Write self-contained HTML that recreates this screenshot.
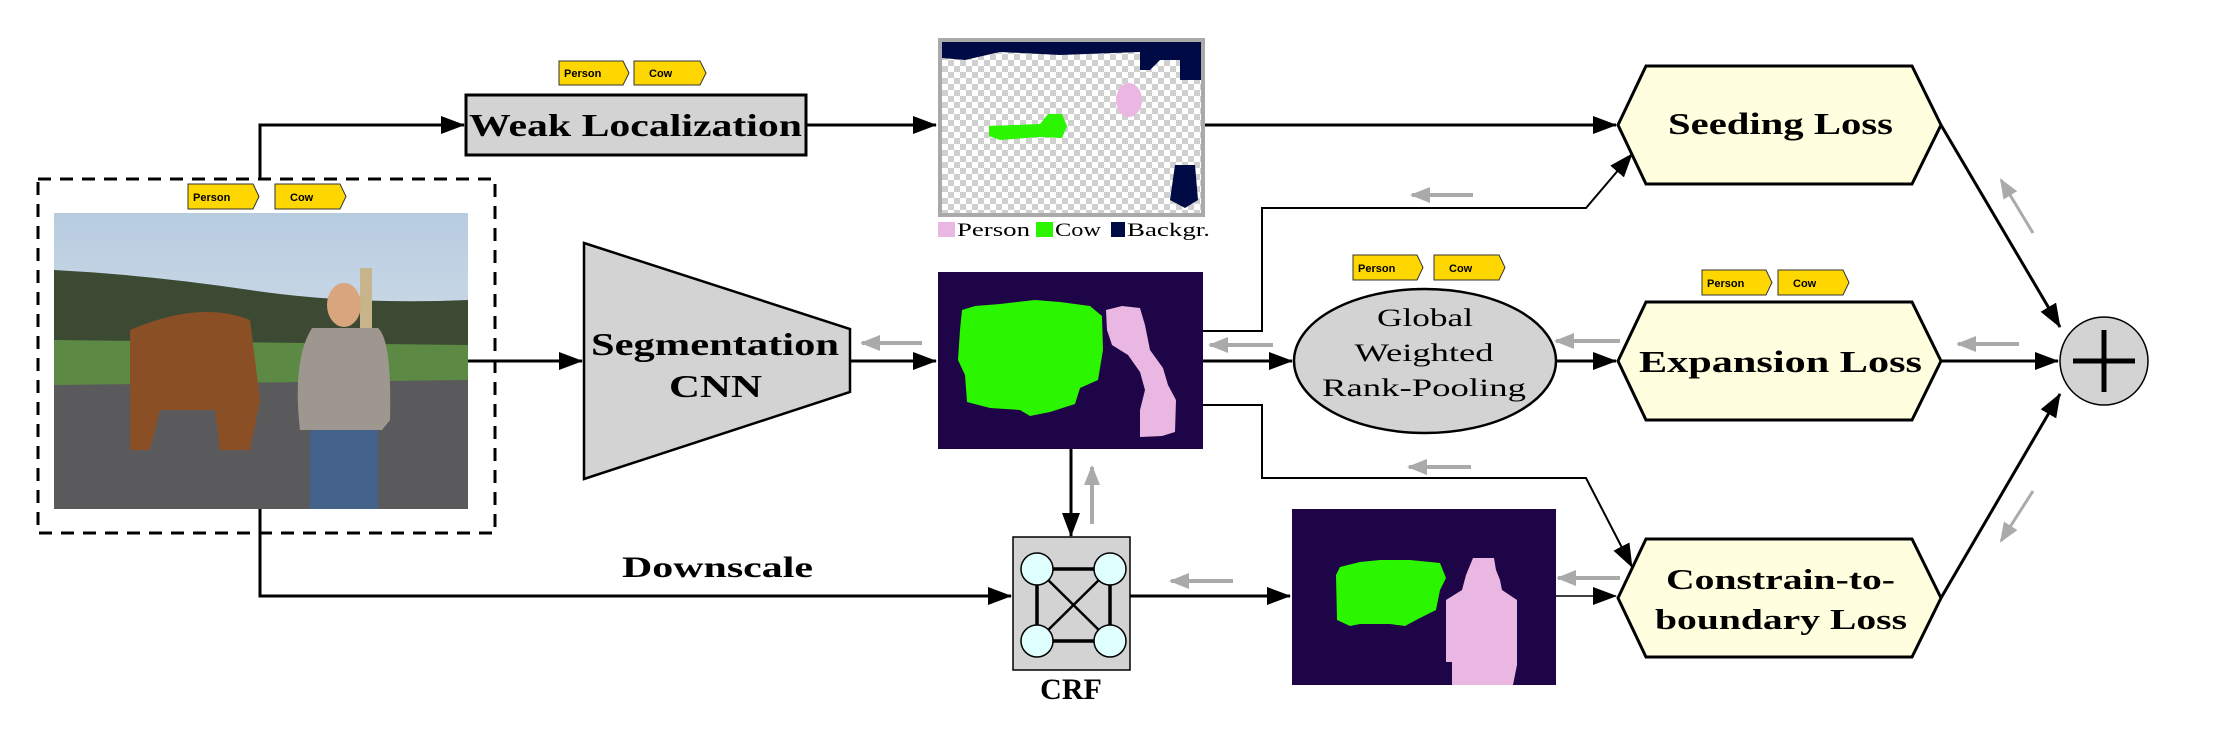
<!DOCTYPE html>
<html><head><meta charset="utf-8"><style>
html,body{margin:0;padding:0;background:#fff;}
svg{display:block;}
text{font-family:"Liberation Serif",serif;fill:#000;}
.b{font-weight:bold;}
.t{font-family:"Liberation Sans",sans-serif;font-size:11px;font-weight:bold;}
</style></head><body>
<svg width="2223" height="744" viewBox="0 0 2223 744" xmlns="http://www.w3.org/2000/svg">
<defs>
<marker id="ah" markerWidth="24" markerHeight="18" refX="23" refY="9" orient="auto" markerUnits="userSpaceOnUse"><path d="M0,0 L24,9 L0,18 Z" fill="#000"/></marker>
<marker id="gh" markerWidth="20" markerHeight="16" refX="18" refY="8" orient="auto" markerUnits="userSpaceOnUse"><path d="M0,0 L20,8 L0,16 Z" fill="#aaa"/></marker>
<pattern id="chk" width="12" height="12" patternUnits="userSpaceOnUse"><rect width="12" height="12" fill="#fff"/><rect width="6" height="6" fill="#d0d0d0"/><rect x="6" y="6" width="6" height="6" fill="#d0d0d0"/></pattern>
<linearGradient id="sky" x1="0" y1="0" x2="0" y2="1"><stop offset="0" stop-color="#b8cce0"/><stop offset="1" stop-color="#e6ecef"/></linearGradient>
</defs>

<!-- Photo -->
<rect x="38" y="179" width="457" height="354" fill="none" stroke="#000" stroke-width="3" stroke-dasharray="13,9"/>
<rect x="54" y="213" width="414" height="296" fill="url(#sky)"/>
<path d="M54,270 Q150,275 250,290 T468,300 L468,360 L54,360 Z" fill="#3d4a33"/>
<path d="M54,340 L468,345 L468,400 L54,400 Z" fill="#5c8a44"/>
<path d="M54,385 L468,380 L468,509 L54,509 Z" fill="#5a5a5c"/>
<path d="M130,330 Q200,300 250,320 L260,400 L250,450 L220,450 L215,410 L160,410 L150,450 L130,450 Z" fill="#8b4f25"/>
<rect x="360" y="268" width="12" height="160" fill="#c8b48a"/>
<ellipse cx="344" cy="305" rx="17" ry="22" fill="#d9a57c"/>
<path d="M312,328 L378,328 Q392,340 390,420 L382,430 L300,430 Q292,360 312,328 Z" fill="#9e978f"/>
<rect x="310" y="430" width="68" height="79" fill="#44628a"/>

<!-- tags -->
<g>
<polygon points="188,184 253,184 259,196.5 253,209 188,209" fill="#ffd700" stroke="#333"/><text class="t" x="193" y="201">Person</text>
<polygon points="275,184 340,184 346,196.5 340,209 275,209" fill="#ffd700" stroke="#333"/><text class="t" x="290" y="201">Cow</text>
<polygon points="559,61 623,61 629,73 623,85 559,85" fill="#ffd700" stroke="#333"/><text class="t" x="564" y="77">Person</text>
<polygon points="634,61 700,61 706,73 700,85 634,85" fill="#ffd700" stroke="#333"/><text class="t" x="649" y="77">Cow</text>
<polygon points="1353,255 1417,255 1423,267.5 1417,280 1353,280" fill="#ffd700" stroke="#333"/><text class="t" x="1358" y="272">Person</text>
<polygon points="1434,255 1499,255 1505,267.5 1499,280 1434,280" fill="#ffd700" stroke="#333"/><text class="t" x="1449" y="272">Cow</text>
<polygon points="1702,270 1766,270 1772,282.5 1766,295 1702,295" fill="#ffd700" stroke="#333"/><text class="t" x="1707" y="287">Person</text>
<polygon points="1778,270 1843,270 1849,282.5 1843,295 1778,295" fill="#ffd700" stroke="#333"/><text class="t" x="1793" y="287">Cow</text>
</g>

<!-- connectors black -->
<g stroke="#000" stroke-width="3" fill="none">
<polyline points="260,179 260,125 464,125" marker-end="url(#ah)"/>
<line x1="806" y1="125" x2="936" y2="125" marker-end="url(#ah)"/>
<line x1="1205" y1="125" x2="1616" y2="125" marker-end="url(#ah)"/>
<line x1="468" y1="361" x2="582" y2="361" marker-end="url(#ah)"/>
<line x1="850" y1="361" x2="936" y2="361" marker-end="url(#ah)"/>
<line x1="1071" y1="449" x2="1071" y2="536" marker-end="url(#ah)"/>
<polyline points="260,509 260,596 1011,596" marker-end="url(#ah)"/>
<line x1="1130" y1="596" x2="1290" y2="596" marker-end="url(#ah)"/>
<line x1="1203" y1="361" x2="1292" y2="361" marker-end="url(#ah)"/>
<line x1="1556" y1="361" x2="1616" y2="361" marker-end="url(#ah)"/>
<line x1="1941" y1="361" x2="2058" y2="361" marker-end="url(#ah)"/>
<polyline points="1941,125 2060,327" marker-end="url(#ah)"/>
<polyline points="1941,598 2060,394" marker-end="url(#ah)"/>
</g>
<g stroke="#000" stroke-width="2" fill="none">
<polyline points="1203,331 1262,331 1262,208 1586,208 1632,154" marker-end="url(#ah)"/>
<polyline points="1203,405 1262,405 1262,478 1586,478 1632,567" marker-end="url(#ah)"/>
<line x1="1556" y1="596" x2="1616" y2="596" stroke-width="1.5" marker-end="url(#ah)"/>
</g>

<!-- gray arrows -->
<g stroke="#aaa" stroke-width="4" fill="none">
<line x1="922" y1="343" x2="862" y2="343" marker-end="url(#gh)"/>
<line x1="1092" y1="524" x2="1092" y2="467" marker-end="url(#gh)"/>
<line x1="1473" y1="195" x2="1412" y2="195" marker-end="url(#gh)"/>
<line x1="1273" y1="345" x2="1210" y2="345" marker-end="url(#gh)"/>
<line x1="1620" y1="341" x2="1556" y2="341" marker-end="url(#gh)"/>
<line x1="2019" y1="344" x2="1958" y2="344" marker-end="url(#gh)"/>
<line x1="1471" y1="467" x2="1409" y2="467" marker-end="url(#gh)"/>
<line x1="1233" y1="581" x2="1171" y2="581" marker-end="url(#gh)"/>
<line x1="1620" y1="578" x2="1558" y2="578" marker-end="url(#gh)"/>
<line x1="2033" y1="233" x2="2001" y2="180" stroke-width="3" marker-end="url(#gh)"/>
<line x1="2033" y1="491" x2="2001" y2="541" stroke-width="3" marker-end="url(#gh)"/>
</g>

<!-- Weak Localization -->
<rect x="466" y="95" width="340" height="60" fill="#d3d3d3" stroke="#000" stroke-width="3"/>
<text class="b" x="469" y="136" font-size="32" textLength="333" lengthAdjust="spacingAndGlyphs">Weak Localization</text>

<!-- Seed map -->
<rect x="940" y="40" width="263" height="175" fill="url(#chk)" stroke="#aaa" stroke-width="4"/>
<path d="M942,42 L1201,42 L1201,80 L1180,80 L1180,60 L1160,60 L1150,70 L1140,70 L1140,52 L1060,55 L1000,52 L965,60 L942,58 Z" fill="#000a44"/>
<path d="M1175,165 L1195,165 L1198,200 L1185,208 L1170,200 Z" fill="#000a44"/>
<ellipse cx="1129" cy="100" rx="13" ry="17" fill="#eab6e2"/>
<path d="M989,126 L1040,124 L1048,114 L1062,114 L1067,126 L1062,138 L1040,137 L1000,140 L989,136 Z" fill="#2cf500"/>
<rect x="938" y="222" width="17" height="15" fill="#eab6e2"/>
<text x="957" y="236" font-size="19" textLength="73" lengthAdjust="spacingAndGlyphs">Person</text>
<rect x="1036" y="222" width="17" height="15" fill="#2cf500"/>
<text x="1055" y="236" font-size="19" textLength="46" lengthAdjust="spacingAndGlyphs">Cow</text>
<rect x="1111" y="222" width="14" height="15" fill="#000a44"/>
<text x="1127" y="236" font-size="19" textLength="83" lengthAdjust="spacingAndGlyphs">Backgr.</text>

<!-- Segmentation CNN -->
<polygon points="584,243 850,329 850,392 584,479" fill="#d3d3d3" stroke="#000" stroke-width="2.5"/>
<text class="b" x="591" y="355" font-size="32" textLength="248" lengthAdjust="spacingAndGlyphs">Segmentation</text>
<text class="b" x="669" y="397" font-size="32" textLength="93" lengthAdjust="spacingAndGlyphs">CNN</text>

<!-- Seg map -->
<rect x="938" y="272" width="265" height="177" fill="#1d0548"/>
<path d="M962,310 L975,306 L1000,304 L1035,300 L1060,302 L1090,306 L1102,316 L1103,350 L1098,380 L1080,388 L1075,404 L1050,412 L1030,416 L1020,410 L990,408 L967,402 L965,375 L958,360 L960,330 Z" fill="#2cf500"/>
<path d="M1106,310 L1122,306 L1140,308 L1145,325 L1150,350 L1163,368 L1168,385 L1176,400 L1175,432 L1162,436 L1140,437 L1140,410 L1145,390 L1140,372 L1128,355 L1112,345 L1107,330 Z" fill="#eab6e2"/>

<!-- CRF -->
<rect x="1013" y="537" width="117" height="133" fill="#d3d3d3" stroke="#000" stroke-width="1.5"/>
<g stroke="#000" stroke-width="3.5" fill="none">
<line x1="1037" y1="569" x2="1110" y2="569"/><line x1="1037" y1="641" x2="1110" y2="641"/>
<line x1="1037" y1="569" x2="1037" y2="641"/><line x1="1110" y1="569" x2="1110" y2="641"/>
<line x1="1037" y1="569" x2="1110" y2="641" stroke-width="2.5"/><line x1="1110" y1="569" x2="1037" y2="641" stroke-width="2.5"/>
</g>
<g fill="#e0ffff" stroke="#000" stroke-width="1.5">
<circle cx="1037" cy="569" r="16"/><circle cx="1110" cy="569" r="16"/><circle cx="1037" cy="641" r="16"/><circle cx="1110" cy="641" r="16"/>
</g>
<text class="b" x="1071" y="699" font-size="30" text-anchor="middle">CRF</text>

<text class="b" x="622" y="577" font-size="30" textLength="191" lengthAdjust="spacingAndGlyphs">Downscale</text>

<!-- bottom map -->
<rect x="1292" y="509" width="264" height="176" fill="#1d0548"/>
<path d="M1340,567 L1360,562 L1380,560 L1410,560 L1440,563 L1446,578 L1440,590 L1436,610 L1420,618 L1405,626 L1390,624 L1360,624 L1350,626 L1337,620 L1336,575 Z" fill="#2cf500"/>
<path d="M1473,558 L1494,558 L1496,570 L1500,580 L1502,590 L1517,600 L1517,665 L1513,685 L1452,685 L1452,662 L1446,662 L1446,600 L1462,590 L1466,575 Z" fill="#eab6e2"/>

<!-- Global ellipse -->
<ellipse cx="1425" cy="361" rx="131" ry="72" fill="#d3d3d3" stroke="#000" stroke-width="2.5"/>
<text x="1425" y="326" font-size="25" text-anchor="middle" textLength="96" lengthAdjust="spacingAndGlyphs">Global</text>
<text x="1424" y="361" font-size="25" text-anchor="middle" textLength="139" lengthAdjust="spacingAndGlyphs">Weighted</text>
<text x="1424" y="396" font-size="25" text-anchor="middle" textLength="204" lengthAdjust="spacingAndGlyphs">Rank-Pooling</text>

<!-- Loss hexagons -->
<g fill="#ffffe0" stroke="#000" stroke-width="3">
<polygon points="1618,125 1646,66 1912,66 1941,125 1912,184 1646,184"/>
<polygon points="1618,361 1646,302 1912,302 1941,361 1912,420 1646,420"/>
<polygon points="1618,598 1646,539 1912,539 1941,598 1912,657 1646,657"/>
</g>
<text class="b" x="1668" y="134" font-size="31" textLength="225" lengthAdjust="spacingAndGlyphs">Seeding Loss</text>
<text class="b" x="1639" y="372" font-size="31" textLength="283" lengthAdjust="spacingAndGlyphs">Expansion Loss</text>
<text class="b" x="1666" y="589" font-size="29" textLength="229" lengthAdjust="spacingAndGlyphs">Constrain-to-</text>
<text class="b" x="1655" y="629" font-size="29" textLength="252" lengthAdjust="spacingAndGlyphs">boundary Loss</text>

<!-- plus -->
<ellipse cx="2104" cy="361" rx="44" ry="44" fill="#d3d3d3" stroke="#000" stroke-width="1.5"/>
<line x1="2073" y1="361" x2="2135" y2="361" stroke="#000" stroke-width="5"/>
<line x1="2104" y1="330" x2="2104" y2="392" stroke="#000" stroke-width="5"/>
</svg>
</body></html>
